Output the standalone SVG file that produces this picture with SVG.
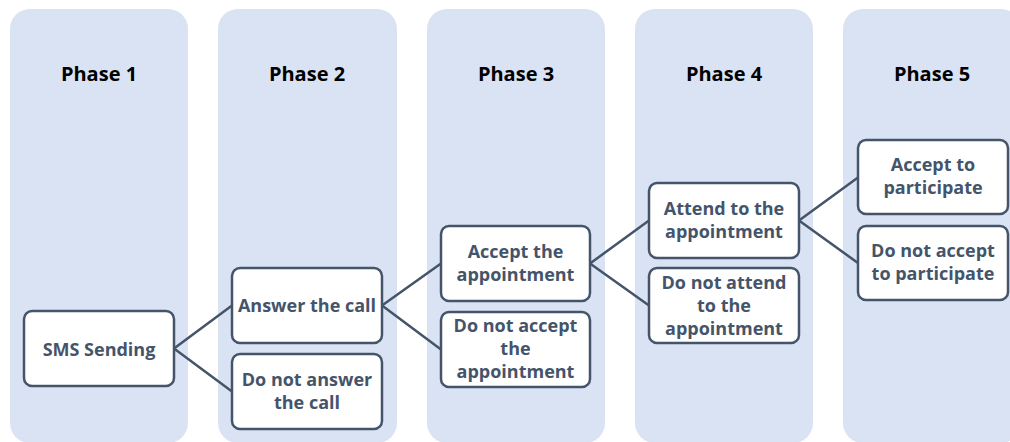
<svg xmlns="http://www.w3.org/2000/svg" width="1010" height="442" viewBox="0 0 1010 442">
  <style>
    .col { fill: #DAE3F3; }
    .head { font-family: "Open Sans", "Liberation Sans", sans-serif; font-weight: bold; font-size: 20px; fill: #000000; text-anchor: middle; }
    .box { fill: #FFFFFF; stroke: #44546A; stroke-width: 2.5; }
    .lbl { font-family: "Open Sans", "Liberation Sans", sans-serif; font-weight: bold; font-size: 18px; fill: #44546A; text-anchor: middle; }
    .link { stroke: #44546A; stroke-width: 2.5; fill: none; }
  </style>

  <!-- phase columns -->
  <g id="phases">
    <g id="phase1"><rect class="col" x="10" y="9" width="178" height="434" rx="20"/><text class="head" x="99" y="81">Phase 1</text></g>
    <g id="phase2"><rect class="col" x="218" y="9" width="179" height="434" rx="20"/><text class="head" x="307" y="81">Phase 2</text></g>
    <g id="phase3"><rect class="col" x="427" y="9" width="178" height="434" rx="20"/><text class="head" x="516" y="81">Phase 3</text></g>
    <g id="phase4"><rect class="col" x="635" y="9" width="178" height="434" rx="20"/><text class="head" x="724" y="81">Phase 4</text></g>
    <g id="phase5"><rect class="col" x="843" y="9" width="178" height="434" rx="20"/><text class="head" x="932" y="81">Phase 5</text></g>
  </g>

  <!-- branching connectors -->
  <g id="connectors">
    <path class="link" d="M174,348.5 L232,305.5 M174,348.5 L232,391.5"/>
    <path class="link" d="M382,305.5 L441,263.5 M382,305.5 L441,349.5"/>
    <path class="link" d="M590,263.5 L649,220.5 M590,263.5 L649,305.5"/>
    <path class="link" d="M799,220.5 L858,177.5 M799,220.5 L858,263"/>
  </g>

  <!-- outcome nodes -->
  <g id="sms">
    <rect class="box" x="24" y="311" width="150" height="75" rx="8"/>
    <text class="lbl" x="99" y="355.5">SMS Sending</text>
  </g>
  <g id="answer">
    <rect class="box" x="232" y="268" width="150" height="75" rx="8"/>
    <text class="lbl" x="307" y="312">Answer the call</text>
  </g>
  <g id="no-answer">
    <rect class="box" x="232" y="354" width="150" height="75" rx="8"/>
    <text class="lbl" x="307" y="386">Do not answer</text>
    <text class="lbl" x="307" y="409">the call</text>
  </g>
  <g id="accept-appt">
    <rect class="box" x="441" y="226" width="149" height="75" rx="8"/>
    <text class="lbl" x="515.5" y="258">Accept the</text>
    <text class="lbl" x="515.5" y="281">appointment</text>
  </g>
  <g id="no-accept-appt">
    <rect class="box" x="441" y="312" width="149" height="75" rx="8"/>
    <text class="lbl" x="515.5" y="332">Do not accept</text>
    <text class="lbl" x="515.5" y="355">the</text>
    <text class="lbl" x="515.5" y="378">appointment</text>
  </g>
  <g id="attend">
    <rect class="box" x="649" y="183" width="150" height="75" rx="8"/>
    <text class="lbl" x="724" y="215">Attend to the</text>
    <text class="lbl" x="724" y="238">appointment</text>
  </g>
  <g id="no-attend">
    <rect class="box" x="649" y="268" width="150" height="75" rx="8"/>
    <text class="lbl" x="724" y="288.5">Do not attend</text>
    <text class="lbl" x="724" y="311.5">to the</text>
    <text class="lbl" x="724" y="334.5">appointment</text>
  </g>
  <g id="participate">
    <rect class="box" x="858" y="140" width="150" height="74" rx="8"/>
    <text class="lbl" x="933" y="171">Accept to</text>
    <text class="lbl" x="933" y="194">participate</text>
  </g>
  <g id="no-participate">
    <rect class="box" x="858" y="226" width="150" height="74" rx="8"/>
    <text class="lbl" x="933" y="257">Do not accept</text>
    <text class="lbl" x="933" y="280">to participate</text>
  </g>
</svg>
